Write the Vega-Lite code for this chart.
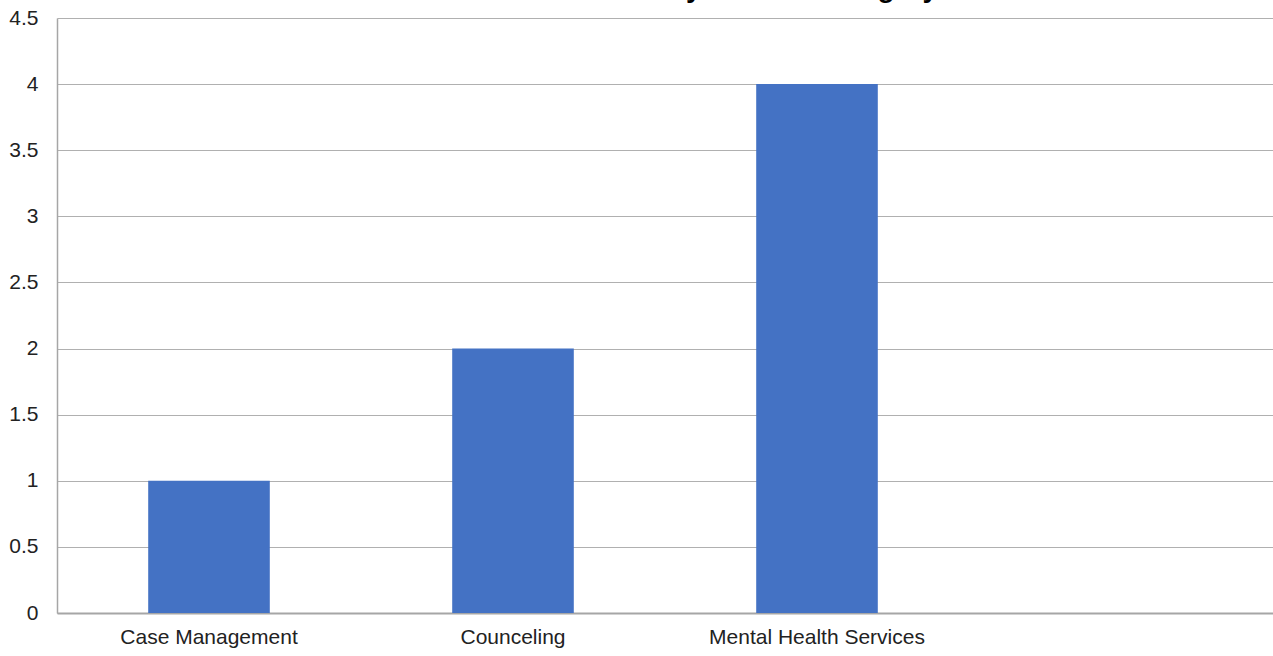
{
  "$schema": "https://vega.github.io/schema/vega-lite/v6.json",
  "autosize": "none",
  "width": 1216,
  "height": 595,
  "padding": {"left": 57, "top": 18, "right": 0, "bottom": 43},
  "background": "white",
  "title": {
    "text": "Number of Referrals by Service Category",
    "font": "Liberation Sans",
    "fontSize": 28,
    "fontWeight": "bold",
    "color": "#000000",
    "anchor": "middle",
    "frame": "group",
    "baseline": "alphabetic",
    "offset": 0,
    "dy": 18
  },
  "config": {
    "view": {"stroke": null},
    "font": "Liberation Sans"
  },
  "data": {
    "values": [
      {"category": "Case Management", "count": 1},
      {"category": "Counceling", "count": 2},
      {"category": "Mental Health Services", "count": 4}
    ]
  },
  "mark": {"type": "bar", "color": "#4472c4"},
  "encoding": {
    "x": {
      "field": "category",
      "type": "nominal",
      "sort": null,
      "scale": {
        "domain": ["Case Management", "Counceling", "Mental Health Services", " "],
        "paddingInner": 0.6,
        "paddingOuter": 0.3
      },
      "axis": {
        "title": null,
        "labelAngle": 0,
        "labelFont": "Liberation Sans",
        "labelFontSize": 21,
        "labelColor": "#222222",
        "labelPadding": 13,
        "labelLimit": 0,
        "labelOverlap": false,
        "ticks": false,
        "domainColor": "#a6a6a6",
        "domainWidth": 2,
        "grid": false
      }
    },
    "y": {
      "field": "count",
      "type": "quantitative",
      "scale": {"domain": [0, 4.5], "nice": false},
      "axis": {
        "title": null,
        "values": [0, 0.5, 1, 1.5, 2, 2.5, 3, 3.5, 4, 4.5],
        "format": "~g",
        "labelFont": "Liberation Sans",
        "labelFontSize": 21,
        "labelColor": "#222222",
        "labelPadding": 19,
        "ticks": false,
        "domainColor": "#a6a6a6",
        "domainWidth": 1.5,
        "gridColor": "#b0b0b0",
        "gridWidth": 1
      }
    }
  }
}
